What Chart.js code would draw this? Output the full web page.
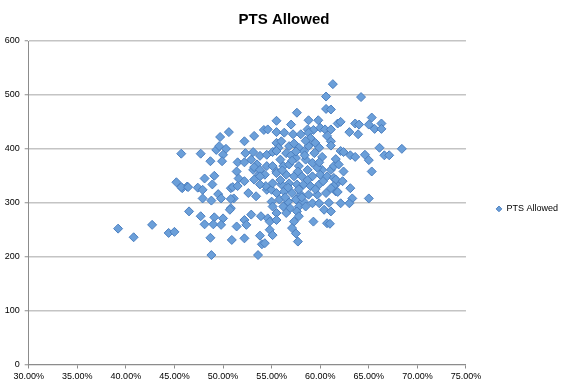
<!DOCTYPE html>
<html>
<head>
<meta charset="utf-8">
<title>PTS Allowed</title>
<script src="https://cdn.jsdelivr.net/npm/chart.js@4.4.1/dist/chart.umd.min.js"></script>
<style>
    html, body { margin: 0; padding: 0; background: #ffffff; }
    #wrap { width: 568px; height: 386px; }
</style>
</head>
<body>
<div id="wrap"><canvas id="ptsChart" width="568" height="386"></canvas></div>
<script>
// Win percentage (x) and points allowed (y), point by point
const winPct = [
    39.2, 40.8, 42.7, 44.4, 45.0, 45.7, 45.2, 45.8, 46.3, 46.5, 45.7, 46.4,
    47.7, 48.7, 49.7, 50.6, 49.3, 49.6, 50.3, 50.0, 49.9, 48.1, 49.1, 48.9,
    47.4, 47.9, 49.5, 47.9, 48.8, 49.8, 47.7, 48.1, 49.1, 50.0, 49.0, 49.8,
    48.7, 48.8,
    52.2, 53.2, 54.2, 54.6, 55.5, 52.3, 53.1, 53.8, 52.9, 51.5, 52.2, 54.5,
    55.1, 55.5, 53.5, 54.5, 53.1, 53.7, 51.4, 53.2, 53.8, 54.3, 55.5, 50.8,
    51.6, 52.2, 53.2, 53.8, 51.0, 51.5, 51.1, 50.8, 50.8, 50.7, 52.6, 53.4,
    54.5, 54.4, 55.0, 53.8, 51.4, 52.2, 52.9, 52.4, 53.9, 54.6, 54.8, 50.9,
    52.2, 53.8, 54.0, 53.6, 54.8, 55.1, 54.3, 55.0, 55.1, 55.1, 55.1, 55.9,
    57.0, 58.8, 59.8, 57.6, 60.6, 61.3, 64.2, 60.6, 61.1, 55.5, 56.3, 57.2,
    58.0, 58.7, 59.3, 60.0, 60.5, 61.1, 58.8, 60.7, 61.1, 59.5, 56.0, 55.7,
    57.8, 58.8, 59.9, 61.1, 55.5, 56.5, 57.0, 60.2, 61.6, 57.5, 58.5, 59.2,
    56.2, 56.8, 57.8, 58.7, 60.2, 61.1, 61.4, 61.9, 55.5, 56.5, 57.3, 58.1,
    59.2, 60.0, 60.7, 61.4, 56.0, 56.8, 57.6, 58.3, 59.0, 59.9, 61.6, 55.5,
    56.3, 57.1, 58.0, 58.8, 59.7, 60.6, 61.6, 55.8, 56.7, 57.5, 58.3, 59.2,
    59.9, 56.2, 56.9, 57.8, 58.5, 60.4, 61.1, 55.5, 56.5, 57.6, 57.8, 55.5,
    57.3, 59.3, 60.7, 57.1, 57.5, 57.7,
    56.1, 57.7, 59.4, 58.3, 55.9, 58.7, 59.7, 57.1, 58.4, 59.9, 56.8, 57.5,
    59.0, 57.3, 58.5, 57.8, 59.5, 56.7, 58.1, 60.3, 56.4, 60.9,
    61.8, 62.1, 63.6, 64.0, 63.0, 63.9, 65.3, 65.0, 65.6, 66.3, 66.3, 62.1,
    62.4, 63.1, 63.6, 64.6, 65.0, 66.1, 66.6, 67.1, 68.4, 65.3, 62.4, 61.6,
    62.3, 61.4, 61.8, 63.1, 63.3, 63.0, 62.1, 65.0, 61.0, 61.1
];

const ptsAllowed = [
    252, 236, 259, 244, 246, 391, 338, 327, 330, 284, 329, 329,
    391, 377, 422, 431, 398, 405, 400, 389, 377, 345, 350, 334,
    328, 324, 316, 308, 304, 308, 275, 260, 273, 271, 260, 259,
    235, 203,
    414, 424, 435, 436, 452, 392, 394, 387, 380, 375, 375, 389,
    394, 411, 371, 368, 361, 352, 358, 366, 361, 352, 358, 327,
    345, 340, 343, 349, 329, 331, 308, 307, 290, 287, 318, 312,
    324, 331, 324, 334, 256, 268, 278, 259, 275, 271, 265, 231,
    234, 239, 223, 203, 250, 240, 225, 302, 293, 336, 368, 380,
    445, 453, 453, 467, 497, 520, 496, 474, 473, 431, 430, 427,
    427, 436, 435, 439, 436, 436, 430, 424, 414, 411, 414, 402,
    402, 405, 402, 406, 396, 392, 388, 385, 381, 383, 380, 374,
    368, 371, 368, 361, 361, 361, 368, 371, 355, 352, 349, 349,
    349, 352, 349, 346, 334, 336, 334, 334, 331, 334, 334, 318,
    321, 318, 315, 315, 315, 318, 321, 306, 302, 306, 302, 299,
    299, 293, 290, 293, 293, 287, 284, 281, 281, 284, 275, 268,
    265, 265, 262, 253, 243, 228,
    360, 358, 392, 395, 342, 342, 365, 378, 388, 375, 405, 395,
    420, 410, 415, 325, 325, 328, 310, 340, 310, 300,
    447, 450, 447, 445, 431, 427, 458, 445, 437, 447, 437, 396,
    394, 388, 385, 389, 379, 402, 388, 388, 400, 358, 358, 343,
    340, 331, 320, 327, 308, 299, 299, 308, 261, 327
];

// Axis ticks
const xTicks = [30, 35, 40, 45, 50, 55, 60, 65, 70, 75];
const yTicks = [0, 100, 200, 300, 400, 500, 600];

const seriesName = 'PTS Allowed';
const chartTitle = 'PTS Allowed';

const tickFont = { family: 'Liberation Sans', size: 9 };
const axisGray = '#8c8c8c';

// Build the scatter points from the arrays
const points = winPct.map((x, i) => ({ x: x, y: ptsAllowed[i] }));

const ctx = document.getElementById('ptsChart');

new Chart(ctx, {
    type: 'scatter',
    data: {
        datasets: [{
            label: seriesName,
            data: points,
            pointStyle: 'rectRot',
            pointRadius: 4.5,
            pointHoverRadius: 4.5,
            borderWidth: 1,
            backgroundColor: '#6b9fd9',
            borderColor: '#4b7fc0'
        }]
    },
    options: {
        responsive: false,
        animation: false,
        events: [],
        layout: { padding: 0 },
        plugins: {
            title: {
                display: true,
                text: chartTitle,
                color: '#000000',
                font: { family: 'Liberation Sans', size: 15, weight: 'bold' },
                padding: { top: 11, bottom: 12 }
            },
            legend: {
                position: 'right',
                // empty legend title only pushes the entry down a bit
                title: {
                    display: true,
                    text: '',
                    font: { family: 'Liberation Sans', size: 9 },
                    padding: { top: 21, bottom: 0 }
                },
                labels: {
                    usePointStyle: true,
                    boxWidth: 6,
                    boxHeight: 4,
                    padding: 30,
                    color: '#000000',
                    font: { family: 'Liberation Sans', size: 9 }
                }
            },
            tooltip: { enabled: false }
        },
        scales: {
            x: {
                type: 'linear',
                min: xTicks[0],
                max: xTicks[xTicks.length - 1],
                afterBuildTicks: (scale) => {
                    scale.ticks = xTicks.map(v => ({ value: v }));
                },
                afterFit: (scale) => {
                    scale.height = 21.5;
                },
                ticks: {
                    color: '#000000',
                    font: tickFont,
                    padding: 3,
                    maxRotation: 0,
                    callback: (value) => value.toFixed(2) + '%'
                },
                grid: {
                    drawOnChartArea: false,
                    drawTicks: true,
                    tickLength: 4,
                    color: axisGray
                },
                border: { color: axisGray, width: 1 }
            },
            y: {
                type: 'linear',
                min: yTicks[0],
                max: yTicks[yTicks.length - 1],
                afterBuildTicks: (scale) => {
                    scale.ticks = yTicks.map(v => ({ value: v }));
                },
                afterFit: (scale) => {
                    scale.width = 28.7;
                },
                ticks: {
                    color: '#000000',
                    font: tickFont,
                    padding: 5
                },
                grid: {
                    color: '#c4c4c4',
                    lineWidth: 1.5,
                    tickLength: 4,
                    tickColor: axisGray,
                    tickWidth: 1
                },
                border: { color: axisGray, width: 1 }
            }
        }
    }
});
</script>
</body>
</html>
